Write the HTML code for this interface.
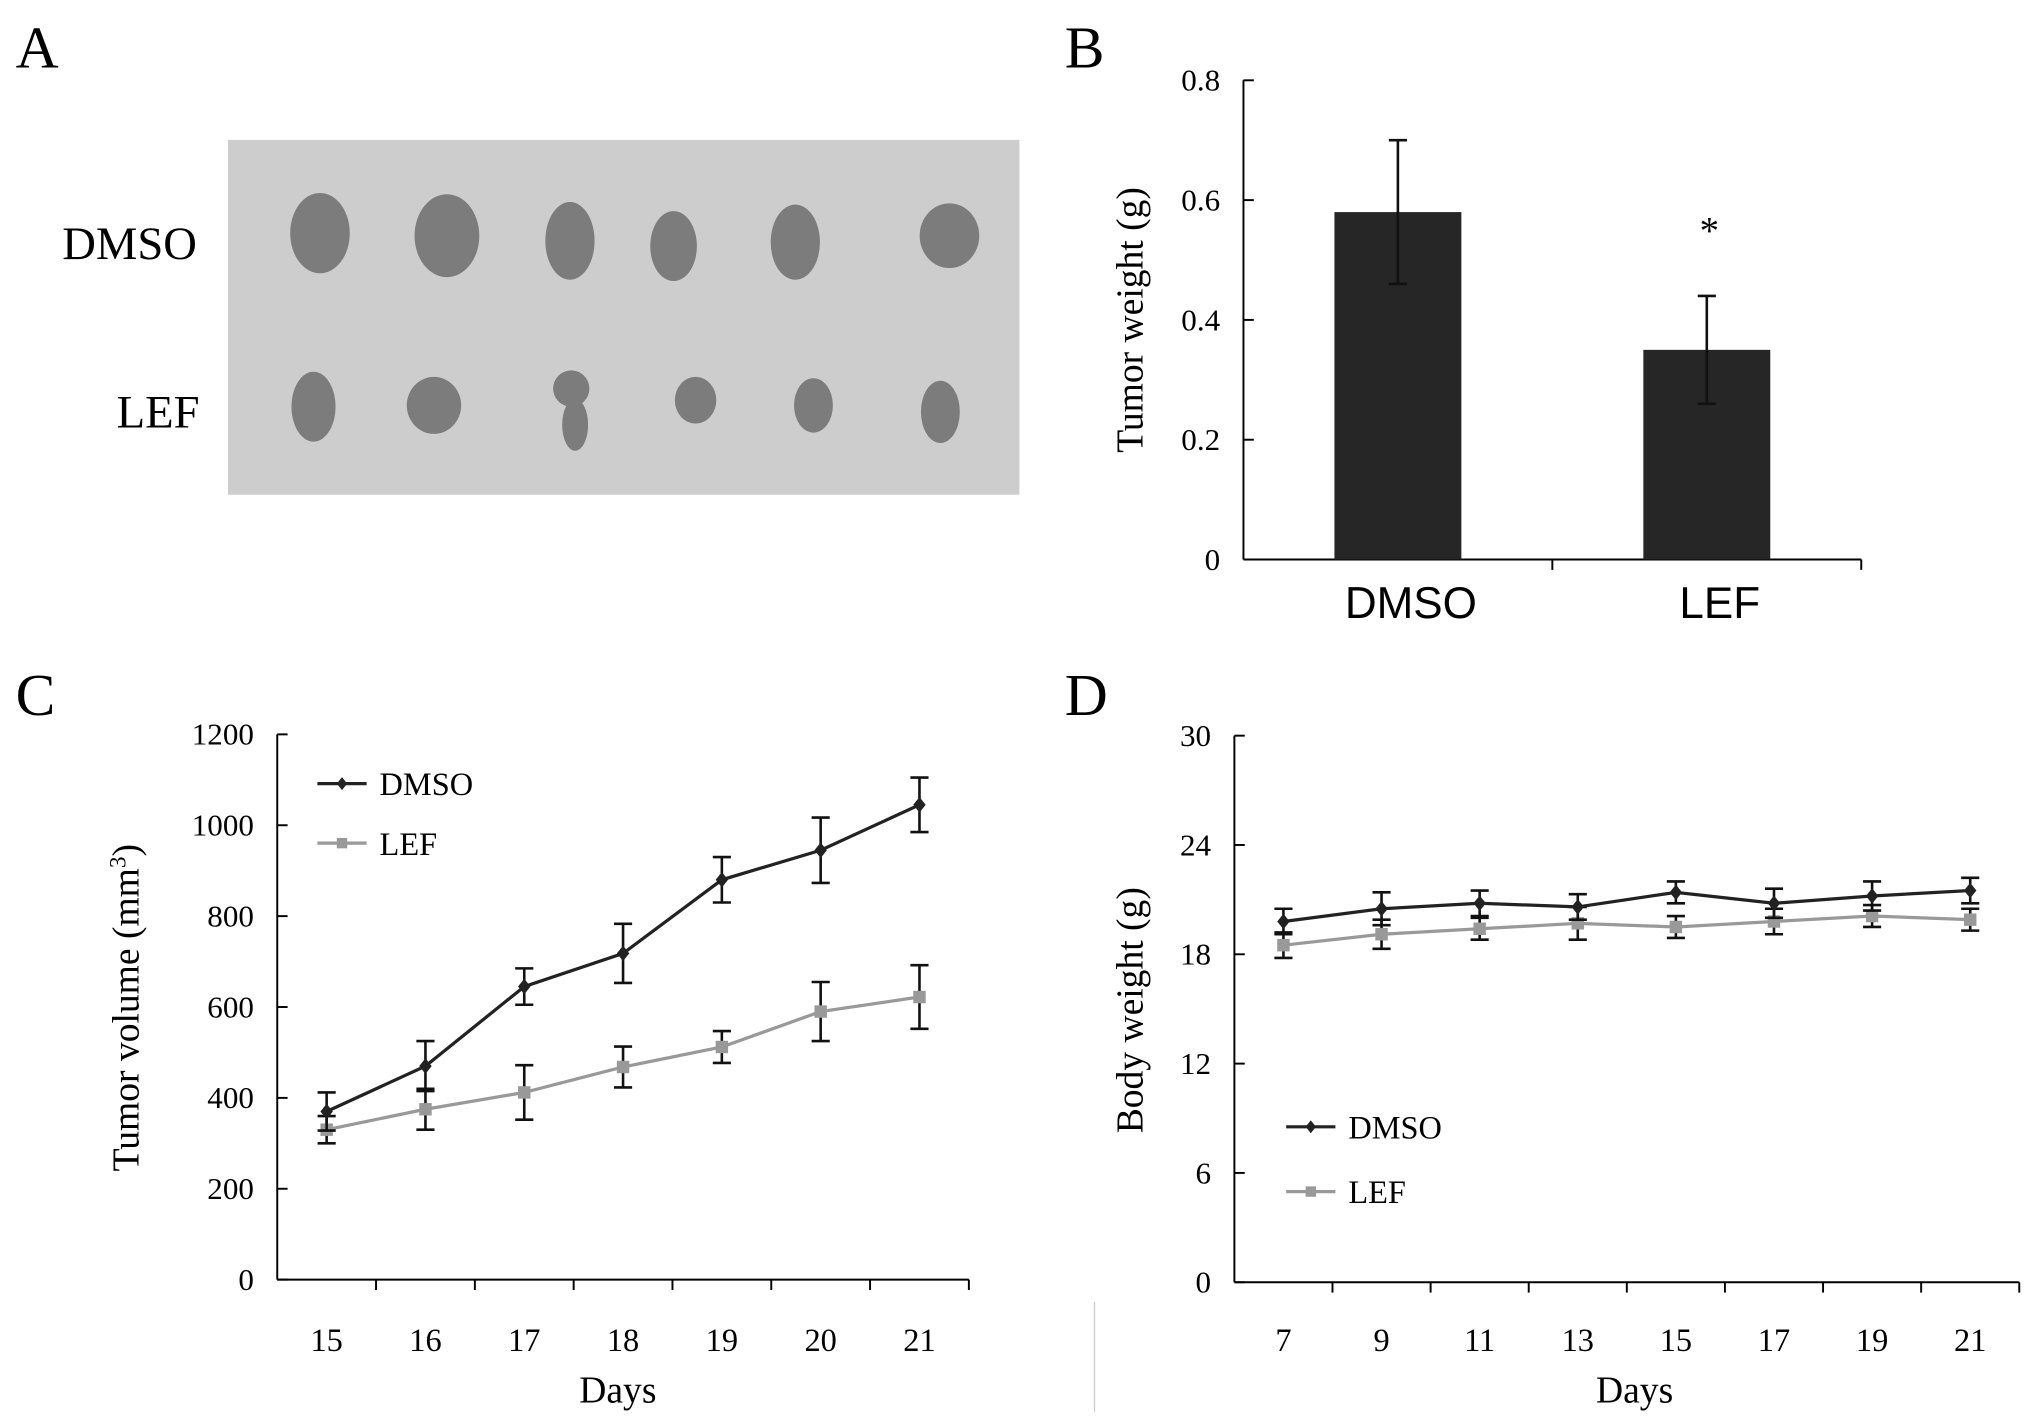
<!DOCTYPE html>
<html><head><meta charset="utf-8"><style>
html,body{margin:0;padding:0;background:#fff;}
svg{display:block;font-family:"Liberation Serif",serif;}
</style></head><body>
<svg id="fig" width="2031" height="1426" viewBox="0 0 1568 1101" xmlns="http://www.w3.org/2000/svg">
<rect width="1568" height="1101" fill="#fff"/>
<!-- Panel A -->
<g>
<text x="12" y="52" font-size="46">A</text>
<rect x="176" y="108" width="611" height="274" fill="#cdcdcd"/>
<text x="48" y="200" font-size="36">DMSO</text>
<text x="90" y="330" font-size="36">LEF</text>
<g fill="#7c7c7c">
<ellipse cx="247" cy="180" rx="23" ry="31"/>
<ellipse cx="345" cy="182" rx="25" ry="32"/>
<ellipse cx="440" cy="186" rx="19" ry="30"/>
<ellipse cx="520" cy="190" rx="18" ry="27"/>
<ellipse cx="614" cy="187" rx="19" ry="29"/>
<ellipse cx="733" cy="182" rx="23" ry="25"/>
<ellipse cx="242" cy="314" rx="17" ry="27"/>
<ellipse cx="335" cy="313" rx="21" ry="22"/>
<ellipse cx="441" cy="300" rx="14" ry="14"/>
<ellipse cx="444" cy="328" rx="10" ry="20"/>
<ellipse cx="537" cy="309" rx="16" ry="18"/>
<ellipse cx="628" cy="313" rx="15" ry="21"/>
<ellipse cx="726" cy="318" rx="15" ry="24"/>
</g>
</g>
<text x="822" y="52" font-size="46">B</text>
<text x="12" y="552" font-size="46">C</text>
<text x="822" y="552" font-size="46">D</text>
<line x1="845" y1="1005" x2="845" y2="1090" stroke="#ccc" stroke-width="1"/>
<g id="gb"></g>
<g id="gc"></g>
<g id="gd"></g>
</svg>
<script>
// Panel B data
const bCategories = ["DMSO", "LEF"];
const bValues = [0.58, 0.35];
const bErrors = [0.12, 0.09];
const bTicks = [0, 0.2, 0.4, 0.6, 0.8];
// Panel C data
const cDays = ["15","16","17","18","19","20","21"];
const cDmso = [370, 470, 645, 718, 880, 945, 1045];
const cDmsoErr = [42, 55, 40, 65, 50, 72, 60];
const cLef = [330, 375, 412, 468, 512, 590, 622];
const cLefErr = [30, 45, 60, 45, 35, 65, 70];
const cTicks = [0, 200, 400, 600, 800, 1000, 1200];
// Panel D data
const dDays = ["7","9","11","13","15","17","19","21"];
const dDmso = [19.8, 20.5, 20.8, 20.6, 21.4, 20.8, 21.2, 21.5];
const dDmsoErr = [0.7, 0.9, 0.7, 0.7, 0.6, 0.8, 0.8, 0.7];
const dLef = [18.5, 19.1, 19.4, 19.7, 19.5, 19.8, 20.1, 19.9];
const dLefErr = [0.7, 0.8, 0.6, 0.9, 0.6, 0.7, 0.6, 0.6];
const dTicks = [0, 6, 12, 18, 24, 30];

const NS = "http://www.w3.org/2000/svg";
function mk(parent, tag, attrs, text) {
  const e = document.createElementNS(NS, tag);
  for (const k in attrs) e.setAttribute(k, attrs[k]);
  if (text !== undefined) e.textContent = text;
  parent.appendChild(e);
  return e;
}
function axes(g, x0, x1, y0, y1, ymax, ticks, nCats, fmt) {
  const ys = v => y0 - (v / ymax) * (y0 - y1);
  const yax = mk(g, "line", {x1: x0, y1: y1, x2: x0, y2: y0, stroke: "#000", "stroke-width": 1.5});
  
  
  const xax = mk(g, "line", {x1: x0, y1: y0, x2: x1, y2: y0, stroke: "#000", "stroke-width": 1.5});
  
  
  ticks.forEach(t => {
    const tk = mk(g, "line", {x1: x0, y1: ys(t), x2: x0 + 8, y2: ys(t), stroke: "#000", "stroke-width": 1.5});
    
    
    const tl = mk(g, "text", {x: x0 - 18, y: ys(t) + 8, "font-size": 24, "text-anchor": "end"}, fmt(t));
    
    
  });
  const bw = (x1 - x0) / nCats;
  for (let i = 1; i <= nCats; i++) {
    const tk = mk(g, "line", {x1: x0 + bw * i, y1: y0, x2: x0 + bw * i, y2: y0 + 8, stroke: "#000", "stroke-width": 1.5});
    
    
  }
  return {ys: ys, xs: i => x0 + bw * (i + 0.5), bw: bw};
}
function errbar(g, x, ya, yb, w) {
  const p = mk(g, "path", {d: `M${x},${ya}V${yb}M${x - w},${ya}H${x + w}M${x - w},${yb}H${x + w}`, stroke: "#111", "stroke-width": 2, fill: "none"});
  
  
}
function marker(g, x, y, type, color, s) {
  let m;
  if (type === "d") m = mk(g, "path", {d: `M${x},${y - s}L${x + s * 0.8},${y}L${x},${y + s}L${x - s * 0.8},${y}Z`, fill: color});
  else m = mk(g, "rect", {x: x - s * 0.8, y: y - s * 0.8, width: s * 1.6, height: s * 1.6, fill: color});
  
  
}
function lineSeries(g, ax, vals, errs, color, type, name) {
  const sg = mk(g, "g", {});
  
  
  vals.forEach((v, i) => errbar(sg, ax.xs(i), ax.ys(v - errs[i]), ax.ys(v + errs[i]), 7));
  const d = vals.map((v, i) => (i ? "L" : "M") + ax.xs(i) + "," + ax.ys(v)).join("");
  const pl = mk(sg, "path", {d: d, stroke: color, "stroke-width": 2.5, fill: "none"});
  
  
  vals.forEach((v, i) => marker(sg, ax.xs(i), ax.ys(v), type, color, 6));
}
function legend(g, x, y, label, color, type) {
  const lg = mk(g, "g", {});
  
  
  mk(lg, "line", {x1: x, y1: y, x2: x + 38, y2: y, stroke: color, "stroke-width": 2.5});
  marker(lg, x + 19, y, type, color, 5);
  mk(lg, "text", {x: x + 48, y: y + 9, "font-size": 25}, label);
}
// Panel B
(function () {
  const g = document.getElementById("gb");
  const ax = axes(g, 960, 1437, 432, 62, 0.8, bTicks, 2, t => t === 0 ? "0" : t.toFixed(1));
  const bx = [1081, 1318];
  bValues.forEach((v, i) => {
    const c = ax.xs(i);
    const r = mk(g, "rect", {x: c - 49, y: ax.ys(v), width: 98, height: ax.ys(0) - ax.ys(v), fill: "#262626"});
    
    
    errbar(g, c, ax.ys(v - bErrors[i]), ax.ys(v + bErrors[i]), 7);
    const cl = mk(g, "text", {x: c + 10, y: 477, "font-size": 34, "text-anchor": "middle", "font-family": "Liberation Sans, sans-serif"}, bCategories[i]);
    
    
  });
  const st = mk(g, "text", {x: ax.xs(1) + 2, y: 188, "font-size": 30, "text-anchor": "middle"}, "*");
  
  
  const yt = mk(g, "text", {x: 0, y: 0, "font-size": 29, "text-anchor": "middle", transform: "translate(882,247) rotate(-90)"}, "Tumor weight (g)");
  
  
})();
// Panel C
(function () {
  const g = document.getElementById("gc");
  const ax = axes(g, 214, 748, 988, 567, 1200, cTicks, 7, t => String(t));
  cDays.forEach((d, i) => {
    const t = mk(g, "text", {x: ax.xs(i), y: 1043, "font-size": 25, "text-anchor": "middle"}, d);
    
    
  });
  lineSeries(g, ax, cLef, cLefErr, "#999", "s", "series-lef");
  lineSeries(g, ax, cDmso, cDmsoErr, "#222", "d", "series-dmso");
  legend(g, 245, 605, "DMSO", "#222", "d");
  legend(g, 245, 651, "LEF", "#999", "s");
  const xt = mk(g, "text", {x: 477, y: 1083, "font-size": 29, "text-anchor": "middle"}, "Days");
  
  
  const yt = mk(g, "text", {x: 0, y: 0, "font-size": 29, "text-anchor": "middle", transform: "translate(107,778) rotate(-90)"});
  
  
  yt.innerHTML = 'Tumor volume (mm<tspan dy="-10" font-size="18">3</tspan><tspan dy="10">)</tspan>';
})();
// Panel D
(function () {
  const g = document.getElementById("gd");
  const ax = axes(g, 953, 1559, 990, 568, 30, dTicks, 8, t => String(t));
  dDays.forEach((d, i) => {
    const t = mk(g, "text", {x: ax.xs(i), y: 1043, "font-size": 25, "text-anchor": "middle"}, d);
    
    
  });
  lineSeries(g, ax, dLef, dLefErr, "#999", "s", "series-lef");
  lineSeries(g, ax, dDmso, dDmsoErr, "#222", "d", "series-dmso");
  legend(g, 993, 870, "DMSO", "#222", "d");
  legend(g, 993, 920, "LEF", "#999", "s");
  const xt = mk(g, "text", {x: 1262, y: 1083, "font-size": 29, "text-anchor": "middle"}, "Days");
  
  
  const yt = mk(g, "text", {x: 0, y: 0, "font-size": 29, "text-anchor": "middle", transform: "translate(882,780) rotate(-90)"}, "Body weight (g)");
  
  
})();
</script>
</body></html>
